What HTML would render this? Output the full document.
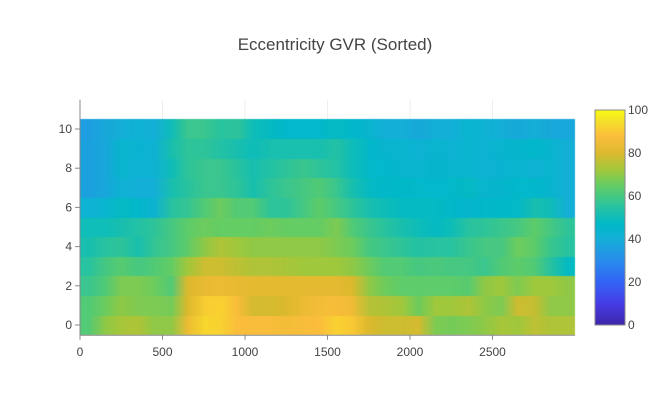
<!DOCTYPE html>
<html><head><meta charset="utf-8"><style>
body{margin:0;background:#fff;font-family:"Liberation Sans",sans-serif;}
#wrap{position:relative;width:671px;height:416px;}
svg text{font-family:"Liberation Sans",sans-serif;fill:#444;}
</style></head><body>
<div id="wrap">
<svg id="svg" width="671" height="416" style="position:absolute;left:0;top:0">
<text x="335" y="50" text-anchor="middle" font-size="17">Eccentricity GVR (Sorted)</text>
<g id="grid"></g>
<foreignObject x="0" y="0" width="671" height="416"><canvas id="cv" width="671" height="416" xmlns="http://www.w3.org/1999/xhtml"></canvas></foreignObject>
<g id="axes"></g>
<defs><linearGradient id="cbg" x1="0" y1="1" x2="0" y2="0" id2=""></linearGradient></defs>
<rect x="595" y="110" width="30" height="215" fill="url(#cbg)" stroke="#888" stroke-width="1"/>
<g id="cbt"></g>
</svg>
</div>
<script>
const xStep = 100;
const rowLabels = [0,1,2,3,4,5,6,7,8,9,10];
const row0 = [62,70,73,74,70,70,84,93,92,88,87,87,86,87,88,92,90,80,78,78,79,68,67,68,70,73,72,76,74,74];
const row1 = [62,66,70,68,68,67,80,91,92,87,79,79,80,84,86,87,85,75,74,72,66,72,72,74,70,68,78,77,70,70];
const row2 = [58,62,68,68,66,62,80,83,84,83,82,82,82,82,82,82,80,70,66,64,64,64,64,63,70,72,68,72,72,70];
const row3 = [55,60,63,60,62,65,72,78,78,76,74,74,73,72,72,72,70,66,62,62,60,61,60,60,58,62,64,62,55,48];
const row4 = [52,55,56,52,57,60,64,70,74,72,70,70,70,70,70,68,66,60,58,56,54,55,55,58,60,60,66,64,58,55];
const row5 = [50,50,52,54,56,60,64,66,65,65,65,66,65,65,65,68,62,58,55,52,50,48,50,55,56,58,60,64,60,56];
const row6 = [42,44,48,46,42,55,57,62,66,62,62,56,56,60,64,60,56,52,50,48,48,48,46,45,46,47,46,52,50,40];
const row7 = [36,38,42,40,40,52,55,58,58,56,52,56,58,60,62,58,52,48,46,47,46,46,46,48,44,45,46,46,44,40];
const row8 = [36,38,44,42,42,50,56,58,58,55,52,54,56,58,56,54,50,46,46,44,44,45,44,44,42,43,44,42,44,40];
const row9 = [36,38,44,43,42,52,56,56,54,52,50,52,52,52,52,54,50,46,44,44,42,44,42,44,42,44,45,46,44,40];
const row10 = [35,38,40,42,40,50,58,58,55,56,50,48,46,46,46,48,46,44,40,40,38,40,40,44,42,40,38,40,38,38];
const rows = [row0,row1,row2,row3,row4,row5,row6,row7,row8,row9,row10];
const xTicks = [0,500,1000,1500,2000,2500];
const yTicks = [0,2,4,6,8,10];
const cbTicks = [0,20,40,60,80,100];

const stops=[[0,[62,38,168]],[0.1,[70,60,230]],[0.2,[50,100,245]],[0.3,[40,140,235]],[0.4,[20,175,215]],[0.47,[0,185,200]],[0.55,[40,195,160]],[0.65,[100,205,100]],[0.72,[160,200,60]],[0.8,[220,185,45]],[0.88,[252,190,60]],[0.95,[245,225,40]],[1,[248,250,20]]];
function col(v){const t=Math.max(0,Math.min(1,v/100));for(let i=1;i<stops.length;i++){if(t<=stops[i][0]){const a=stops[i-1],b=stops[i];const f=(t-a[0])/(b[0]-a[0]);return a[1].map((c,k)=>Math.round(c+(b[1][k]-c)*f));}}return stops[stops.length-1][1];}
const X=v=>80+v*0.165, Y=v=>325-19.6*v;
const NS="http://www.w3.org/2000/svg";
function mk(tag,attrs,parent,txt){const e=document.createElementNS(NS,tag);for(const k in attrs)e.setAttribute(k,attrs[k]);if(txt!==undefined)e.textContent=txt;parent.appendChild(e);return e;}
const grid=document.getElementById('grid'), axes=document.getElementById('axes');
xTicks.forEach(t=>{if(t>0){const l=mk('line',{x1:X(t),x2:X(t),y1:Y(11.5),y2:Y(-0.5),stroke:'#eee'},grid);}});
// heatmap
const cv=document.getElementById('cv'),ctx=cv.getContext('2d');ctx.imageSmoothingEnabled=true;
const n=row0.length;
rows.forEach((r,ri)=>{const s=document.createElement('canvas');s.width=n;s.height=1;const sc=s.getContext('2d');const img=sc.createImageData(n,1);r.forEach((v,i)=>{const c=col(v);img.data[i*4]=c[0];img.data[i*4+1]=c[1];img.data[i*4+2]=c[2];img.data[i*4+3]=255;});sc.putImageData(img,0,0);
const x0=X(0),x1=X(n*xStep),y0=Y(rowLabels[ri]+0.5),y1=Y(rowLabels[ri]-0.5);
ctx.drawImage(s,0,0,n,1,x0,Math.floor(y0),x1-x0,Math.ceil(y1)-Math.floor(y0));});
// axes
let a=mk('line',{x1:80,x2:80,y1:Y(11.5),y2:Y(-0.5)+0.5,stroke:'#888'},axes);
a=mk('line',{x1:80,x2:575,y1:Y(-0.5)+0.5,y2:Y(-0.5)+0.5,stroke:'#888'},axes);
xTicks.forEach(t=>{mk('line',{x1:X(t),x2:X(t),y1:Y(-0.5),y2:Y(-0.5)+5,stroke:'#888'},axes);const e=mk('text',{x:X(t),y:356,'text-anchor':'middle','font-size':12},axes,t);});
yTicks.forEach(t=>{mk('line',{x1:75,x2:80,y1:Y(t),y2:Y(t),stroke:'#888'},axes);const e=mk('text',{x:72,y:Y(t)+4,'text-anchor':'end','font-size':12},axes,t);});
const g=document.getElementById('cbg');stops.forEach(s=>mk('stop',{offset:s[0],'stop-color':'rgb('+s[1].join(',')+')'},g));
const cbt=document.getElementById('cbt');cbTicks.forEach(t=>{const e=mk('text',{x:628,y:325-2.15*t+4,'font-size':12},cbt,t);});
</script>
</body></html>
